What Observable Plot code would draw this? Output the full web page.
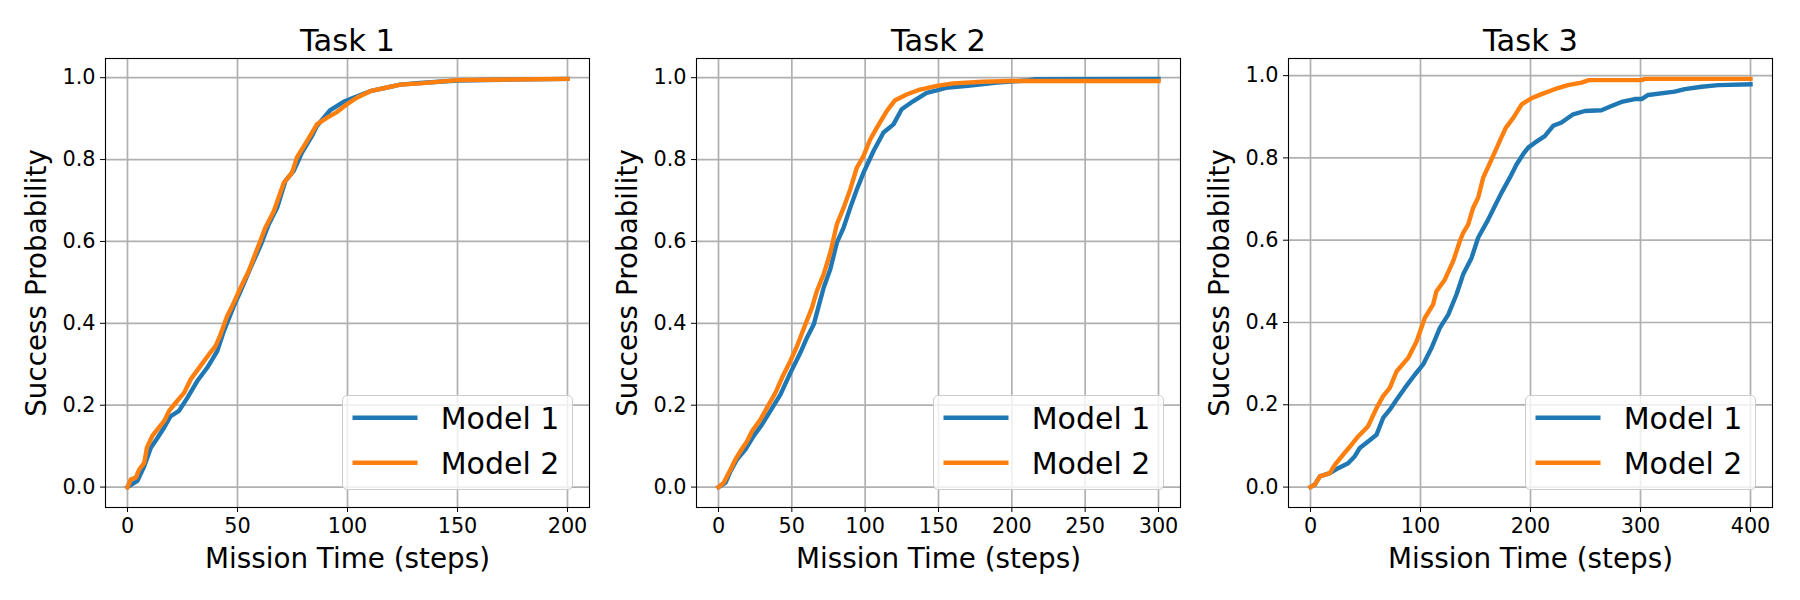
<!DOCTYPE html>
<html>
<head>
<meta charset="utf-8">
<script src="https://cdn.jsdelivr.net/npm/d3@7"></script>
<script src="https://cdn.jsdelivr.net/npm/@observablehq/plot@0.6"></script>
<style>
  html, body { margin: 0; padding: 0; background: #ffffff; }
  #root { position: relative; width: 1800px; height: 600px; font-family: "DejaVu Sans", sans-serif; color: #000; }
  .panel { position: absolute; top: 0; width: 592px; height: 600px; }
  .panel svg { display: block; }
  .legend { position: absolute; box-sizing: border-box; border: 1px solid #cccccc; border-radius: 5px; background: rgba(255,255,255,0.8); }
  .legend svg { position: absolute; left: -1px; top: -1px; overflow: visible; }
</style>
</head>
<body>
<div id="root"></div>
<script>
// ---------- data ----------
const taskTitles = ["Task 1", "Task 2", "Task 3"];
const seriesNames = ["Model 1", "Model 2"];
const seriesColors = ["#1f77b4", "#ff7f0e"];
const xLabel = "Mission Time (steps)";
const yLabel = "Success Probability";

const task1XTicks = [0, 50, 100, 150, 200];
const task2XTicks = [0, 50, 100, 150, 200, 250, 300];
const task3XTicks = [0, 100, 200, 300, 400];
const yTicks = [0, 0.2, 0.4, 0.6, 0.8, 1.0];

const task1Model1X = [0, 4.5, 7.6, 10.6, 13.6, 16.6, 19.6, 23.4, 27.2, 31.7, 36.3, 40.8, 43.8, 48.3, 51.4, 56.6, 60.4, 64.2, 68, 71.8, 75.5, 79.3, 83.8, 86.1, 92.2, 98.2, 102.7, 110.3, 118, 124, 133, 150, 170, 200];
const task1Model1Y = [0, 0.015, 0.051, 0.096, 0.12, 0.145, 0.173, 0.186, 0.218, 0.259, 0.292, 0.332, 0.381, 0.442, 0.479, 0.544, 0.589, 0.642, 0.682, 0.748, 0.772, 0.817, 0.857, 0.882, 0.921, 0.941, 0.951, 0.967, 0.976, 0.983, 0.987, 0.993, 0.995, 0.997];
const task1Model2X = [0, 1.5, 3.8, 5.3, 7.6, 8.8, 11.3, 13.6, 16.6, 18.9, 21.9, 25.7, 28.7, 33.2, 37, 40, 42.3, 45.3, 47.6, 51.4, 55.1, 58.9, 62.7, 66.5, 71, 74.8, 77, 81.6, 86.1, 90.6, 95.2, 99.7, 104.2, 110.3, 118, 124, 133, 150, 200];
const task1Model2Y = [0, 0.019, 0.023, 0.043, 0.059, 0.096, 0.125, 0.141, 0.161, 0.186, 0.206, 0.23, 0.263, 0.296, 0.324, 0.344, 0.373, 0.418, 0.442, 0.487, 0.528, 0.581, 0.634, 0.674, 0.743, 0.768, 0.805, 0.845, 0.886, 0.902, 0.916, 0.935, 0.951, 0.967, 0.976, 0.983, 0.986, 0.994, 0.997];

const task2Model1X = [0, 4.8, 8.2, 12.7, 18.4, 24, 29.7, 35.4, 42.2, 49, 55.8, 60.3, 64.9, 68.3, 71.7, 76.2, 80.7, 85.3, 89.8, 94.3, 98.9, 105.7, 112.5, 119.3, 124.9, 132.9, 141.9, 148.8, 155, 170, 190, 210, 215, 300];
const task2Model1Y = [0, 0.011, 0.039, 0.068, 0.092, 0.125, 0.153, 0.186, 0.226, 0.279, 0.328, 0.365, 0.397, 0.442, 0.487, 0.532, 0.597, 0.634, 0.682, 0.727, 0.768, 0.821, 0.866, 0.886, 0.923, 0.943, 0.963, 0.969, 0.975, 0.98, 0.988, 0.993, 0.996, 0.997];
const task2Model2X = [0, 3.6, 8.2, 11.6, 15, 19.5, 22.9, 28.6, 33.1, 38.8, 43.3, 49, 53.5, 59.2, 63.7, 67.1, 71.7, 76.2, 80.7, 85.3, 89.8, 94.3, 98.9, 103.4, 108, 114.8, 120.4, 128.3, 137.4, 148.8, 160, 180, 200, 300];
const task2Model2Y = [0, 0.011, 0.043, 0.068, 0.088, 0.112, 0.137, 0.165, 0.194, 0.23, 0.267, 0.308, 0.344, 0.397, 0.438, 0.479, 0.52, 0.572, 0.642, 0.682, 0.727, 0.78, 0.809, 0.849, 0.878, 0.919, 0.945, 0.959, 0.971, 0.98, 0.986, 0.99, 0.992, 0.992];

const task3Model1X = [0, 3.9, 8.5, 17.6, 25.2, 34.2, 40.3, 44.8, 52.4, 60, 66, 72.1, 78.2, 85.8, 94.8, 102.4, 110, 117.6, 125.2, 132.7, 138.8, 146.4, 152.4, 161.5, 167.6, 173.6, 181.2, 187.3, 193.3, 197.9, 204, 213, 220.6, 228.2, 238.8, 249.4, 264.5, 273.6, 282.7, 294.8, 301, 307, 331, 340.3, 355.5, 370.6, 400];
const task3Model1Y = [0, 0.006, 0.026, 0.034, 0.046, 0.058, 0.075, 0.095, 0.111, 0.127, 0.168, 0.188, 0.212, 0.241, 0.273, 0.298, 0.338, 0.387, 0.419, 0.468, 0.517, 0.557, 0.606, 0.65, 0.683, 0.715, 0.752, 0.784, 0.809, 0.825, 0.837, 0.853, 0.878, 0.886, 0.906, 0.914, 0.916, 0.926, 0.936, 0.943, 0.943, 0.953, 0.961, 0.967, 0.973, 0.977, 0.979];
const task3Model2X = [0, 3.9, 8.5, 17.6, 22.1, 29.7, 37.3, 43.3, 52.4, 60, 66, 72.1, 78.2, 88.8, 96.4, 103.9, 111.5, 114.5, 122.1, 129.7, 135.8, 138.8, 143.3, 147.9, 152.4, 157, 164.5, 172, 177.5, 184.5, 192, 200.9, 210, 222, 234, 246.4, 253, 301, 304, 400];
const task3Model2Y = [0, 0.006, 0.026, 0.034, 0.054, 0.079, 0.103, 0.123, 0.148, 0.192, 0.221, 0.241, 0.281, 0.314, 0.354, 0.411, 0.444, 0.476, 0.504, 0.549, 0.598, 0.618, 0.638, 0.679, 0.703, 0.752, 0.796, 0.841, 0.873, 0.898, 0.93, 0.945, 0.955, 0.967, 0.977, 0.983, 0.989, 0.989, 0.992, 0.992];

// ---------- layout ----------
const FONT = "DejaVu Sans";
const W = 592, H = 600, ML = 105, MR = 3, MT = 58, MB = 93;
const panelLefts = [0, 591, 1183];

const panels = [
  {title: taskTitles[0], xTicks: task1XTicks, s: [[task1Model1X, task1Model1Y], [task1Model2X, task1Model2Y]]},
  {title: taskTitles[1], xTicks: task2XTicks, s: [[task2Model1X, task2Model1Y], [task2Model2X, task2Model2Y]]},
  {title: taskTitles[2], xTicks: task3XTicks, s: [[task3Model1X, task3Model1Y], [task3Model2X, task3Model2Y]]}
];

const root = document.getElementById("root");

panels.forEach((p, i) => {
  const rows = [];
  p.s.forEach(([xs, ys], k) => xs.forEach((x, j) => rows.push({model: seriesNames[k], x, y: ys[j]})));
  const [x0, x1] = d3.extent(rows, d => d.x);
  const [y0, y1] = d3.extent(rows, d => d.y);
  const padX = (x1 - x0) * 0.05, padY = (y1 - y0) * 0.05;

  const chart = Plot.plot({
    width: W, height: H,
    marginLeft: ML, marginRight: MR, marginTop: MT, marginBottom: MB,
    style: {fontFamily: FONT, background: "transparent", color: "#000", overflow: "visible"},
    x: {domain: [x0 - padX, x1 + padX]},
    y: {domain: [y0 - padY, y1 + padY]},
    color: {domain: seriesNames, range: seriesColors},
    marks: [
      Plot.gridX(p.xTicks, {stroke: "#b0b0b0", strokeOpacity: 1, strokeWidth: 1.7}),
      Plot.gridY(yTicks, {stroke: "#b0b0b0", strokeOpacity: 1, strokeWidth: 1.7}),
      Plot.line(rows, {x: "x", y: "y", z: "model", stroke: "model", strokeWidth: 4.4, strokeLinejoin: "round", strokeLinecap: "square"}),
      Plot.frame({stroke: "#000", strokeWidth: 1.1}),
      Plot.axisX(p.xTicks, {tickSize: 5, tickPadding: 6, fontSize: 20.8, label: null, tickFormat: d => String(d)}),
      Plot.axisY(yTicks, {tickSize: 5, tickPadding: 5, fontSize: 20.8, label: null, tickFormat: d => d.toFixed(1)}),
      Plot.text([p.title], {text: d => d, frameAnchor: "top", textAnchor: "middle", lineAnchor: "bottom", dy: -8, fontSize: 30.5, fill: "#000"}),
      Plot.text([xLabel], {text: d => d, frameAnchor: "bottom", textAnchor: "middle", lineAnchor: "bottom", dy: 60, fontSize: 27.8, fill: "#000"}),
      Plot.text([yLabel], {text: d => d, frameAnchor: "left", textAnchor: "middle", lineAnchor: "middle", rotate: -90, dx: -68, fontSize: 27.8, fill: "#000"})
    ]
  });

  const div = document.createElement("div");
  div.className = "panel";
  div.style.left = panelLefts[i] + "px";
  div.appendChild(chart);

  // legend (colors from the chart's own color scale)
  const color = chart.scale("color");
  const lg = document.createElement("div");
  lg.className = "legend";
  const LW = 231, LH = 95;
  lg.style.width = LW + "px";
  lg.style.height = LH + "px";
  lg.style.left = (W - MR - 16 - LW) + "px";
  lg.style.top = (H - MB - 17 - LH) + "px";
  const svg = d3.select(lg).append("svg").attr("width", LW).attr("height", LH);
  seriesNames.forEach((name, k) => {
    const cy = 22.7 + k * 45;
    svg.append("line").attr("x1", 10.5).attr("x2", 75.5).attr("y1", cy).attr("y2", cy)
      .attr("stroke", color.range[color.domain.indexOf(name)]).attr("stroke-width", 4.4);
    svg.append("text").attr("x", 98.7).attr("y", cy + 11.6)
      .attr("font-family", FONT).attr("font-size", 30).attr("fill", "#000").text(name);
  });
  div.appendChild(lg);
  root.appendChild(div);
});
</script>
</body>
</html>
